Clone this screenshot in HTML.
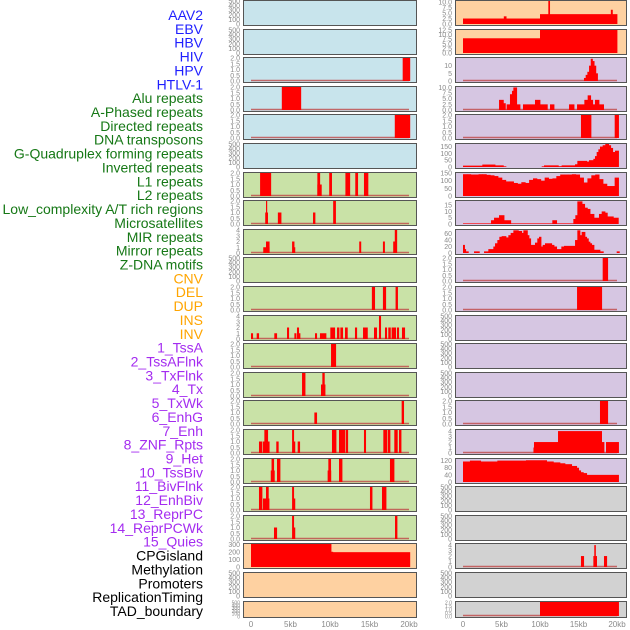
<!DOCTYPE html>
<html><head><meta charset="utf-8">
<style>
body{margin:0;background:#fff;}
svg{display:block;font-family:"Liberation Sans",sans-serif;}
</style></head>
<body>
<svg id="chart" width="630" height="630" viewBox="0 0 630 630" xmlns="http://www.w3.org/2000/svg">
<g id="labels"></g>
<g id="panels"></g>
<g id="xaxes"></g>
</svg>
<script>
const trackLabels = ["AAV2","EBV","HBV","HIV","HPV","HTLV-1","Alu repeats","A-Phased repeats","Directed repeats","DNA transposons","G-Quadruplex forming repeats","Inverted repeats","L1 repeats","L2 repeats","Low_complexity A/T rich regions","Microsatellites","MIR repeats","Mirror repeats","Z-DNA motifs","CNV","DEL","DUP","INS","INV","1_TssA","2_TssAFlnk","3_TxFlnk","4_Tx","5_TxWk","6_EnhG","7_Enh","8_ZNF_Rpts","9_Het","10_TssBiv","11_BivFlnk","12_EnhBiv","13_ReprPC","14_ReprPCWk","15_Quies","CPGisland","Methylation","Promoters","ReplicationTiming","TAD_boundary"];
const labelGroups = [6,13,5,15,5];
const groupColors = ["#1f1fff","#167816","#ffa500","#a42cf0","#000000"];
const xTicks = [0,5,10,15,20];
const xTickLabels = ["0","5kb","10kb","15kb","20kb"];

const t500 = [0,100,200,300,400,500];
const t2 = [0,0.5,1,1.5,2];
const t4 = [0,1,2,3,4];

const L3 = [[19.2,20.1,2]];
const L4 = [[3.9,6.3,2]];
const L5 = [[18.2,20.1,2]];
const L7 = [[1.15,2.5,2],[8.4,8.9,1],[8.4,8.7,2],[9.9,10.2,2],[11.95,12.5,2],[13.2,13.5,2],[14.3,14.8,2]];
const L8 = [[1.8,2.1,1],[1.9,2.0,2],[3.4,3.8,1],[7.85,8.1,1],[10.4,10.7,2]];
const L9 = [[1.55,2.3,1],[1.9,2.3,2],[5.2,5.45,2],[5.45,5.55,1],[13.7,13.9,2],[16.7,16.9,2],[18.0,18.2,2],[18.2,18.45,4]];
const L11 = [[15.3,15.65,2],[16.7,17.05,2],[18.3,18.55,2]];
const L12 = [[0,0.21,1],[0.72,0.97,1],[2.95,3.25,1],[4.56,4.77,2],[5.49,5.7,1],[5.82,6.03,2],[6.03,6.2,1],[8.1,8.31,1],[8.73,9.49,1],[10.04,10.59,2],[10.89,11.14,2],[11.31,11.6,2],[11.9,12.19,2],[13.16,13.38,2],[14.18,14.73,2],[15.57,15.9,2],[16.2,16.41,4],[16.96,17.17,2],[17.38,17.64,2],[17.8,18.31,2],[18.48,18.69,2],[19.11,19.45,2]];
const L13 = [[10.13,10.72,2]];
const L14 = [[6.46,6.84,2],[8.86,9.37,1],[9.03,9.28,2]];
const L15 = [[8.02,8.31,1],[19.07,19.32,2]];
const L16 = [[1.01,1.39,1],[1.52,2.3,1],[1.69,2.11,2],[3.2,3.45,1],[5.2,5.4,2],[5.4,5.55,1],[5.91,6.16,1],[10.25,10.76,2],[11.14,11.85,2],[11.98,12.24,2],[14.3,14.51,2],[16.75,17.21,2],[17.34,17.59,2],[18.14,18.52,2],[18.73,18.99,2]];
const L17 = [[2.5,2.95,1],[2.6,2.87,2],[3.29,3.67,2],[9.7,10.1,1],[9.79,10.08,2],[11.14,11.52,2],[17.59,18.1,2]];
const L18 = [[1.01,1.39,2],[1.52,2.28,1],[1.9,2.19,2],[5.2,5.4,2],[5.4,5.55,1],[15.06,15.32,2],[16.58,17.09,2]];
const L19 = [[2.91,3.25,1],[5.2,5.4,2],[5.4,5.55,1],[18.23,18.48,2]];
const L20 = [[0,10.13,310],[10.13,10.35,205],[10.35,20.1,200]];

const R1 = [[0,10,2.5],[5.3,5.6,3.5],[10,20,4.5],[11.08,11.25,10.5],[19.2,19.4,6.5]];
const R2 = [[0,10,8],[10,20,12.5]];
const R3 = [[15.71,15.93,2],[15.93,16.15,4],[16.15,16.37,6],[16.37,16.59,10],[16.59,16.81,14.5],[16.81,17.03,13],[17.03,17.25,10],[17.25,17.47,5]];
const R4 = [[4.68,5.24,4.5],[5.24,5.5,3],[5.67,6.1,2.5],[6.1,6.36,7],[6.36,6.54,8.5],[6.54,6.97,10],[6.97,7.4,2.5],[7.79,9.35,2.5],[9.35,10,4.5],[10,10.95,2.5],[11.3,11.82,2.5],[13.77,14.42,2.5],[14.81,15.76,2.5],[15.76,16.19,4.5],[16.19,16.58,6.5],[16.58,16.84,4.5],[16.84,17.14,2.5],[17.14,17.66,4.5],[17.66,18.26,2.5]];
const R5 = [[15.32,16.62,2],[19.7,20.2,2]];
const R6edges = [0,2.51,4.16,5.24,5.58,10.22,10.52,12.38,12.81,14.55,14.85,16.06,16.36,16.93,17.14,17.36,17.58,17.79,18.14,18.48,18.92,19.18,19.44,19.74,20.2];
const R6values = [10,18,12,5,0,5,12,6,12,20,45,40,50,60,80,110,130,150,160,170,160,140,110,120];
const R7values = [142,142,140,140,142,142,138,135,130,120,105,95,95,85,80,90,85,105,115,110,100,120,112,115,130,140,140,140,142,140,120,88,115,135,140,110,80,65,65,120];
const R8edges = [0,3.64,4.03,4.68,5.33,6.2,11.6,12.16,14.33,14.59,14.85,15.46,15.8,16.15,16.5,17.01,17.66,18.01,18.44,18.74,19.52,20.17];
const R8values = [0.5,3,5,7,3,0.5,3,0.5,4,7,18,16,13,12,8,5,8,10,9,6,5];
const R9edges = [0,0.2,0.35,0.69,1.43,2.12,2.73,3.29,3.94,4.16,4.46,4.72,5.02,5.58,5.89,6.19,6.54,7.19,7.62,7.84,8.36,8.57,8.79,9.35,9.65,9.87,10.13,10.35,10.65,11.52,11.82,12.16,12.77,13.12,14.55,14.85,15.19,15.41,15.84,16.06,16.28,16.49,16.71,17.01,17.79,18.22,19.96,20.3];
const R9values = [25,12,5,0,5,0,5,12,20,30,40,50,52,48,55,62,70,68,62,70,55,45,25,32,45,50,20,25,30,25,20,12,20,22,40,70,55,65,50,45,35,30,25,10,5,0,5];
const R10 = [[18.14,18.79,2]];
const R11 = [[14.81,18.01,2]];
const R15 = [[17.79,18.79,2]];
const R16 = [[9.15,9.22,1],[9.22,12.34,2],[12.34,18.0,4],[18.0,18.31,2],[18.57,20.2,2]];
const R17edges = [0,0.9,2.29,4.46,8.18,10.86,11.73,12.59,13.24,14.11,14.76,15.02,15.28,15.62,16.06,20.2];
const R17values = [115,120,115,120,122,115,110,105,100,90,80,65,55,50,40];
const R20 = [[15.32,15.67,2],[16.93,17.35,2],[17.05,17.2,4],[18.31,18.66,2]];
const R22 = [[10.0,20.2,2]];

function stepsToSegs(edges, vals){const s=[];for(let i=0;i<vals.length;i++)s.push([edges[i],edges[i+1],vals[i]]);return s;}
function binsToSegs(vals, w){const s=[];for(let i=0;i<vals.length;i++)s.push([i*w,(i+1)*w,vals[i]]);return s;}

const BLUE="#c8e4ec",GREEN="#c9e2a7",ORANGE="#fed1a1",PURPLE="#d6c6e2",GRAY="#d2d2d2";
const fmt1 = v=>v.toFixed(1);
const fmt0 = v=>String(v);

const leftPanels = [
 {bg:BLUE,ticks:t500,ymax:500,f:fmt0,segs:null},
 {bg:BLUE,ticks:t500,ymax:500,f:fmt0,segs:null},
 {bg:BLUE,ticks:t2,ymax:2,f:fmt1,segs:L3,line:true},
 {bg:BLUE,ticks:t2,ymax:2,f:fmt1,segs:L4,line:true},
 {bg:BLUE,ticks:t2,ymax:2,f:fmt1,segs:L5,line:true},
 {bg:BLUE,ticks:t500,ymax:500,f:fmt0,segs:null},
 {bg:GREEN,ticks:t2,ymax:2,f:fmt1,segs:L7,line:true},
 {bg:GREEN,ticks:t2,ymax:2,f:fmt1,segs:L8,line:true},
 {bg:GREEN,ticks:t4,ymax:4,f:fmt0,segs:L9,line:true},
 {bg:GREEN,ticks:t500,ymax:500,f:fmt0,segs:null},
 {bg:GREEN,ticks:t2,ymax:2,f:fmt1,segs:L11,line:true},
 {bg:GREEN,ticks:t4,ymax:4,f:fmt0,segs:L12,line:true},
 {bg:GREEN,ticks:t2,ymax:2,f:fmt1,segs:L13,line:true},
 {bg:GREEN,ticks:t2,ymax:2,f:fmt1,segs:L14,line:true},
 {bg:GREEN,ticks:t2,ymax:2,f:fmt1,segs:L15,line:true},
 {bg:GREEN,ticks:t2,ymax:2,f:fmt1,segs:L16,line:true},
 {bg:GREEN,ticks:t2,ymax:2,f:fmt1,segs:L17,line:true},
 {bg:GREEN,ticks:t2,ymax:2,f:fmt1,segs:L18,line:true},
 {bg:GREEN,ticks:t2,ymax:2,f:fmt1,segs:L19,line:true},
 {bg:ORANGE,ticks:[0,100,200,300],ymax:310,f:fmt0,segs:L20},
 {bg:ORANGE,ticks:t500,ymax:500,f:fmt0,segs:null},
 {bg:ORANGE,ticks:t500,ymax:500,f:fmt0,segs:null}
];
const rightPanels = [
 {bg:ORANGE,ticks:[0,2.5,5,7.5,10],ymax:10.5,f:fmt1,segs:R1},
 {bg:ORANGE,ticks:[0,2.5,5,7.5,10,12.5],ymax:12.5,f:fmt1,segs:R2},
 {bg:PURPLE,ticks:[0,5,10],ymax:15,f:fmt0,segs:R3,line:true},
 {bg:PURPLE,ticks:[0,2.5,5,7.5,10],ymax:10.2,f:fmt1,segs:R4,line:true},
 {bg:PURPLE,ticks:t2,ymax:2,f:fmt1,segs:R5,line:true},
 {bg:PURPLE,ticks:[0,50,100,150],ymax:169,f:fmt0,segs:stepsToSegs(R6edges,R6values)},
 {bg:PURPLE,ticks:[0,50,100,150],ymax:150,f:fmt0,segs:binsToSegs(R7values,0.505)},
 {bg:PURPLE,ticks:[0,5,10,15],ymax:18.3,f:fmt0,segs:stepsToSegs(R8edges,R8values)},
 {bg:PURPLE,ticks:[0,20,40,60],ymax:71,f:fmt0,segs:stepsToSegs(R9edges,R9values)},
 {bg:PURPLE,ticks:t2,ymax:2,f:fmt1,segs:R10,line:true},
 {bg:PURPLE,ticks:t2,ymax:2,f:fmt1,segs:R11,line:true},
 {bg:PURPLE,ticks:t500,ymax:500,f:fmt0,segs:null},
 {bg:PURPLE,ticks:t500,ymax:500,f:fmt0,segs:null},
 {bg:PURPLE,ticks:t500,ymax:500,f:fmt0,segs:null},
 {bg:PURPLE,ticks:t2,ymax:2,f:fmt1,segs:R15,line:true},
 {bg:PURPLE,ticks:t4,ymax:4.2,f:fmt0,segs:R16,line:true},
 {bg:PURPLE,ticks:[0,40,80,120],ymax:129,f:fmt0,segs:stepsToSegs(R17edges,R17values)},
 {bg:GRAY,ticks:t500,ymax:500,f:fmt0,segs:null},
 {bg:GRAY,ticks:t500,ymax:500,f:fmt0,segs:null},
 {bg:GRAY,ticks:t4,ymax:4.2,f:fmt0,segs:R20,line:true},
 {bg:GRAY,ticks:t500,ymax:500,f:fmt0,segs:null},
 {bg:GRAY,ticks:t2,ymax:2,f:fmt1,segs:R22,line:true}
];

const NS="http://www.w3.org/2000/svg";
function mk(tag, attrs, parent){const e=document.createElementNS(NS,tag);for(const k in attrs)e.setAttribute(k,attrs[k]);parent.appendChild(e);return e;}

const lg=document.getElementById('labels');
let gi=0,cnt=0;
trackLabels.forEach((t,i)=>{
  while(cnt>=labelGroups[gi]){cnt-=labelGroups[gi];gi++;}
  cnt++;
  const el=mk('text',{x:203,y:20+i*13.86,'text-anchor':'end','font-size':'14',fill:groupColors[gi]},lg);
  el.textContent=t;
  
  
});

const cols=[{x0:243,x1:416,px0:251,ppk:7.9,tickX:240,panels:leftPanels,name:'left'},
            {x0:455,x1:626,px0:463,ppk:7.7,tickX:452,panels:rightPanels,name:'right'}];
const pg=document.getElementById('panels');
const xg=document.getElementById('xaxes');
cols.forEach(c=>{
  const xs=kb=>c.px0+Math.min(kb,20.3)*c.ppk;
  c.panels.forEach((p,i)=>{
    const top=Math.round(i*28.6);
    const h=(i===21)?16:25;
    const g=mk('g',{},pg);
    
    
    mk('rect',{x:c.x0+1,y:top+1,width:c.x1-c.x0,height:h,fill:'#bbbbbb'},g);
    mk('rect',{x:c.x0+0.5,y:top+0.5,width:c.x1-c.x0,height:h,fill:p.bg,stroke:'#555',"stroke-width":1},g);
    const y0=top+h-1, y1=top+1;
    const ys=v=>y0-(Math.min(v,p.ymax)/p.ymax)*(y0-y1);
    p.ticks.forEach(t=>{
      const tl=mk('text',{x:c.tickX,y:ys(t)+2.5,'text-anchor':'end','font-size':(h<20?'5':'7'),fill:'#8a8a8a'},g);
      tl.textContent=p.f(t);
      
      
    });
    if(p.line){
      const ln=mk('line',{x1:xs(0),x2:xs(20),y1:y0-0.5,y2:y0-0.5,stroke:'#c04848','stroke-width':1.6,opacity:0.8},g);
      
      
    }
    if(p.segs){
      p.segs.forEach(s=>{
        if(s[2]<=0)return;
        const r=mk('rect',{x:xs(s[0]),y:ys(s[2]),width:Math.max(1,xs(s[1])-xs(s[0])+0.4),height:y0-ys(s[2]),fill:'#ff0000'},g);
        
        
      });
    }
  });
  xTicks.forEach((t,i)=>{
    const tx=mk('text',{x:xs(t),y:627,'text-anchor':'middle','font-size':'8',fill:'#8a8a8a'},xg);
    tx.textContent=xTickLabels[i];
    
    
  });
});
</script>
</body></html>
